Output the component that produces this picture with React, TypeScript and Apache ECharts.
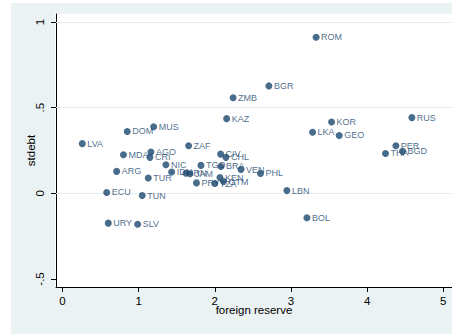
import React, { useEffect, useRef } from "react";
import * as echarts from "echarts";

// Country codes with foreign reserve (x) and short-term debt (y)
const codes = [
  "LVA", "DOM", "MUS", "MDA", "AGO", "CRI", "ARG", "TUR", "ECU", "TUN",
  "URY", "SLV", "NIC", "IDN", "IRN", "JAM", "ZAF", "TGO", "PRY", "BRA",
  "CIV", "CHL", "VEN", "PHL", "KEN", "TZA", "GTM", "LBN", "BOL", "KAZ",
  "ZMB", "BGR", "ROM", "KOR", "LKA", "GEO", "RUS", "PER", "THA", "BGD",
];
const reserve = [
  0.26, 0.85, 1.197, 0.8, 1.161, 1.148, 0.711, 1.126, 0.58, 1.047,
  0.601, 0.987, 1.358, 1.433, 1.621, 1.673, 1.656, 1.818, 1.759, 2.08,
  2.076, 2.146, 2.343, 2.6, 2.067, 2.0, 2.115, 2.946, 3.209, 2.155,
  2.24, 2.71, 3.33, 3.533, 3.283, 3.633, 4.587, 4.377, 4.241, 4.465,
];
const stdebt = [
  0.29, 0.361, 0.389, 0.225, 0.241, 0.21, 0.128, 0.089, 0.005, -0.013,
  -0.174, -0.18, 0.167, 0.124, 0.117, 0.114, 0.278, 0.163, 0.061, 0.157,
  0.229, 0.21, 0.139, 0.116, 0.092, 0.057, 0.069, 0.016, -0.143, 0.436,
  0.558, 0.627, 0.911, 0.416, 0.356, 0.338, 0.442, 0.278, 0.233, 0.245,
];
const xTicks = [0, 1, 2, 3, 4, 5];
const yTicks = [-0.5, 0, 0.5, 1];
const yGrid = [0, 0.5, 1];

const NAVY = "#1a476f";
const FONT = 'Arial, "Liberation Sans", sans-serif';

const fmtY = (v: number) =>
  v === 0.5 ? ".5" : v === -0.5 ? "-.5" : String(v);

export default function App() {
  const ref = useRef<HTMLDivElement>(null);

  useEffect(() => {
    if (!ref.current) return;
    const chart = echarts.init(ref.current, undefined, { renderer: "svg" });
    const points = codes.map((c, i) => ({
      name: c,
      value: [reserve[i], stdebt[i]],
    }));
    chart.setOption({
      animation: false,
      backgroundColor: "#ffffff",
      textStyle: { fontFamily: FONT },
      graphic: [
        {
          type: "rect",
          z: -10,
          silent: true,
          shape: { x: 11, y: 3, width: 441, height: 331 },
          style: { fill: "#eaf2f3" },
        },
        {
          type: "rect",
          z: -9,
          silent: true,
          shape: { x: 55, y: 14, width: 397, height: 273 },
          style: { fill: "#ffffff" },
        },
      ],
      grid: { left: 56, top: 14, right: 0, bottom: 47 },
      xAxis: {
        type: "value",
        min: -0.0853,
        max: 5.114,
        name: "foreign reserve",
        nameLocation: "middle",
        nameGap: 17,
        nameMoveOverlap: false,
        nameTextStyle: { color: "#000", fontSize: 11.5, fontFamily: FONT },
        axisLine: { onZero: false, lineStyle: { color: "#000", width: 1 } },
        axisTick: {
          show: true,
          length: 5,
          customValues: xTicks,
          lineStyle: { color: "#000" },
        },
        axisLabel: {
          customValues: xTicks,
          color: "#000",
          fontSize: 11.5,
          fontFamily: FONT,
          margin: 8,
        },
        splitLine: { show: false },
      },
      yAxis: {
        type: "value",
        min: -0.5467,
        max: 1.0467,
        name: "stdebt",
        nameLocation: "middle",
        nameRotate: 90,
        nameGap: 19,
        nameMoveOverlap: false,
        nameTextStyle: { color: "#000", fontSize: 11.5, fontFamily: FONT },
        axisLine: { show: true, onZero: false, lineStyle: { color: "#000", width: 1 } },
        axisTick: {
          show: true,
          length: 5,
          customValues: yTicks,
          lineStyle: { color: "#000" },
        },
        axisLabel: {
          customValues: yTicks,
          rotate: 90,
          color: "#000",
          fontSize: 11.5,
          fontFamily: FONT,
          margin: 10,
          formatter: (v: number) => fmtY(v),
        },
        splitLine: { show: false },
      },
      series: [
        {
          type: "scatter",
          data: points,
          symbol: "circle",
          symbolSize: 7,
          itemStyle: { color: NAVY },
          label: {
            show: true,
            position: "right",
            distance: 1.5,
            formatter: (p: any) => p.name,
            color: NAVY,
            fontSize: 9,
            fontFamily: FONT,
          },
          markLine: {
            silent: true,
            symbol: "none",
            label: { show: false },
            lineStyle: { color: "#e4edef", width: 1, type: "solid" },
            data: yGrid.map((v) => ({ yAxis: v })),
            z: 1,
          },
        },
      ],
    });
    return () => chart.dispose();
  }, []);

  return (
    <div
      ref={ref}
      style={{ position: "fixed", left: 0, top: 0, width: 452, height: 334 }}
    />
  );
}
